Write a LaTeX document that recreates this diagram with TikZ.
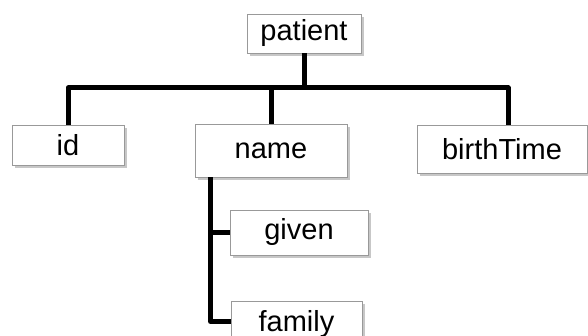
\documentclass[tikz,border=0pt]{standalone}
\usepackage{fontspec}
\setmainfont{Liberation Sans}
\usetikzlibrary{shadows,calc}
\begin{document}
\begin{tikzpicture}[x=1pt,y=-1pt,
  box/.style={draw=black!40, line width=0.9pt, fill=white, inner sep=0pt,
    font=\fontsize{29}{34}\selectfont, text=black,
    drop shadow={shadow xshift=2.5pt, shadow yshift=-3pt, fill=black, opacity=0.22}},
  link/.style={line width=5pt, line join=round, draw=black}]
\useasboundingbox (0,0) rectangle (588,336);
% element boxes
\node[box, minimum width=114pt, minimum height=39pt] (patient) at (304,33.5) {patient};
\node[box, minimum width=112pt, minimum height=40pt] (id) at (68,145) {id};
\node[box, minimum width=152pt, minimum height=53pt] (name) at (271,150.5) {name};
\node[box, minimum width=170pt, minimum height=48pt] (birthTime) at (502,149) {birthTime};
\node[box, minimum width=138pt, minimum height=45pt] (given) at (299,232.5) {given};
\node[box, minimum width=131pt, minimum height=47pt] (family) at (296.5,324.5) {family};
% tree connectors
\coordinate (bus) at (304,88);
\coordinate (trunk) at ($(name.south west)+(16,0)$);
\draw[link] (patient.south) -- (bus);
\draw[link] (id.north) |- (bus) -| ([xshift=6pt]birthTime.north);
\draw[link] (name.north) -- (name.north |- bus);
\draw[link] (trunk) |- ([yshift=3pt]family.west);
\draw[link] (given.west) -- (given.west -| trunk);
\end{tikzpicture}
\end{document}
